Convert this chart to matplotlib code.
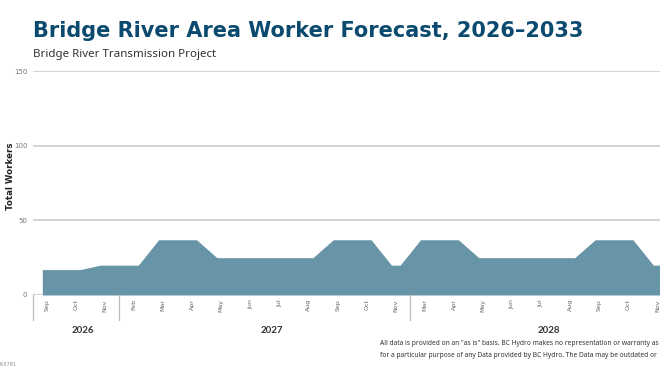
import numpy as np
import matplotlib
matplotlib.use("Agg")
import matplotlib.pyplot as plt
import matplotlib.transforms as mtransforms

# datos del grafico
months = ["Sep", "Oct", "Nov",
          "Feb", "Mar", "Apr", "May", "Jun", "Jul", "Aug", "Sep", "Oct", "Nov",
          "Mar", "Apr", "May", "Jun", "Jul", "Aug", "Sep", "Oct", "Nov"]
years = ["2026"] * 3 + ["2027"] * 10 + ["2028"] * 9
workers = [17, 17, 20,
           20, 37, 37, 25, 25, 25, 25, 37, 37, 20,
           37, 37, 25, 25, 25, 25, 37, 37, 20]
yticks = [0, 50, 100, 150]

FILL = "#6794a7"
GRID = "#cccccc"
TITLE_COLOR = "#0b4a6f"

fig = plt.figure(figsize=(6.6, 3.72), dpi=100)
ax = fig.add_axes([0.05, 0.207, 0.95, 0.602])

idx = np.arange(len(workers))
# cada punto tiene un pequeno tramo plano, como en el original
half = 0.15
xs = np.repeat(idx, 2) + np.tile([-half, half], len(idx))
ys = np.repeat(workers, 2)
ax.fill_between(xs, ys, 0, color=FILL, lw=0, zorder=2)

ax.set_xlim(-0.47, 21.08)
ax.set_ylim(0, 150)
ax.set_yticks(yticks)
ax.set_yticklabels([str(v) for v in yticks], fontsize=5, color="#777777")
ax.yaxis.grid(True, color=GRID, lw=1.2, zorder=1)
ax.tick_params(axis="y", length=0, pad=4)
for s in ax.spines.values():
    s.set_visible(False)

ax.set_xticks(idx)
ax.set_xticklabels(months, rotation=90, fontsize=4.5, color="#666666")
ax.tick_params(axis="x", length=0, pad=3)

ax.set_ylabel("Total Workers", fontsize=6.2, fontweight="bold", color="#222222")
ax.yaxis.set_label_coords(-0.028, 0.53)

# separadores de grupos de anos y etiquetas
trans = mtransforms.blended_transform_factory(ax.transData, ax.transAxes)
ax.plot([-0.47, -0.47], [0, -0.112], color="#bbbbbb", lw=0.9, transform=trans, clip_on=False)
grupos = []
for y in years:
    if y not in grupos:
        grupos.append(y)
for g in grupos:
    pos = [i for i, y in enumerate(years) if y == g]
    if pos[0] > 0:
        ax.plot([pos[0] - 0.5, pos[0] - 0.5], [0, -0.112], color="#bbbbbb", lw=0.9,
                transform=trans, clip_on=False)
    ax.text(np.mean(pos) + 0.25, -0.138, g, transform=trans, ha="center", va="top",
            fontsize=7, fontweight="bold", color="#333333", family="Lato")

fig.text(0.05, 1 - 37 / 372, "Bridge River Area Worker Forecast, 2026\u20132033",
         fontsize=15, fontweight="heavy", color=TITLE_COLOR, family="DejaVu Sans",
         va="baseline")
fig.text(0.05, 1 - 57 / 372, "Bridge River Transmission Project",
         fontsize=8.3, color="#333333", family="Noto Sans", va="baseline")

fig.text(380 / 660, 1 - 345 / 372,
         "All data is provided on an \"as is\" basis. BC Hydro makes no representation or warranty as",
         fontsize=4.8, color="#333333", family="Noto Sans", va="baseline")
fig.text(380 / 660, 1 - 357 / 372,
         "for a particular purpose of any Data provided by BC Hydro. The Data may be outdated or",
         fontsize=4.8, color="#333333", family="Noto Sans", va="baseline")
fig.text(0.0, 1 - 366 / 372, "K-5791", fontsize=3.5, color="#888888", va="baseline")

fig.savefig("out.png", dpi=100)
